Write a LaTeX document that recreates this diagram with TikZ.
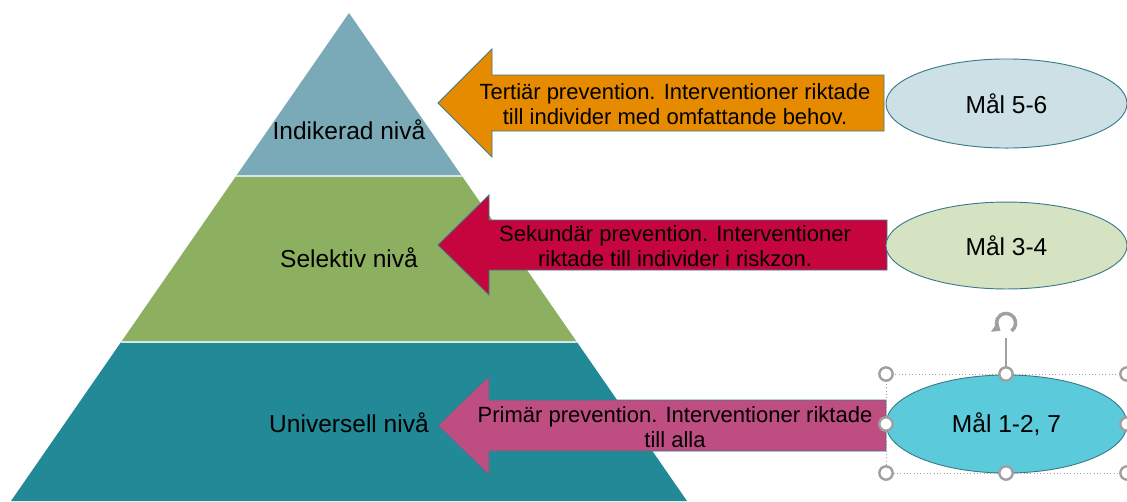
\documentclass[tikz,border=0pt]{standalone}
\usepackage{fontspec}
\setmainfont{Liberation Sans}
\usetikzlibrary{arrows.meta}
\definecolor{topc}{HTML}{7AAAB8}
\definecolor{midc}{HTML}{8DB060}
\definecolor{botc}{HTML}{218A96}
\definecolor{orangec}{HTML}{E68A00}
\definecolor{redc}{HTML}{C5053D}
\definecolor{pinkc}{HTML}{BE4D82}
\definecolor{ell1}{HTML}{CCE0E5}
\definecolor{ell2}{HTML}{D6E3C3}
\definecolor{ell3}{HTML}{5BCBDB}
\definecolor{edgec}{HTML}{3A7C8A}
\definecolor{sepc}{HTML}{D5E6EA}
\definecolor{handc}{HTML}{A0A0A0}
\begin{document}
\begin{tikzpicture}[x=0.75pt,y=-0.75pt,
  lvl/.style={font=\fontsize{18.4}{22}\selectfont, text=black, inner sep=0pt},
  atext/.style={font=\fontsize{16.5}{18.75}\selectfont, text=black, align=center, inner sep=0pt},
  mtext/.style={font=\fontsize{18.4}{22}\selectfont, text=black, inner sep=0pt},
  arrowshape/.style={draw=edgec, line width=0.6pt},
  ellshape/.style={draw=edgec, line width=0.7pt},
  sepline/.style={draw=sepc, line width=1.5pt},
  handle/.style={circle, draw=handc, fill=white, line width=1.8pt, minimum size=10pt, inner sep=0pt},
  selbox/.style={draw=handc, line width=0.5pt, dotted}]
\useasboundingbox (0,0) rectangle (1127,501);
\clip (0,0) rectangle (1127,501);
\fill[white] (0,0) rectangle (1127,501);
% pyramid
\fill[topc] (349,13) -- (461.9,176) -- (236.1,176) -- cycle;
\fill[midc] (236.1,176) -- (461.9,176) -- (576.9,342) -- (121.1,342) -- cycle;
\fill[botc] (121.1,342) -- (576.9,342) -- (687,501) -- (11,501) -- cycle;
\draw[sepline] (236.1,176) -- (461.9,176);
\draw[sepline] (121.1,342) -- (576.9,342);
\node[lvl] (ind) at (349,130) {Indikerad nivå};
\node[lvl] (sel) at (349,258) {Selektiv nivå};
\node[lvl] (uni) at (349,423) {Universell nivå};
% arrows
\filldraw[arrowshape, fill=orangec] (438,103) -- (492,49) -- (492,75) -- (884,75) -- (884,131) -- (492,131) -- (492,157) -- cycle;
\filldraw[arrowshape, fill=redc] (438,245) -- (489,195) -- (489,220) -- (887,220) -- (887,270) -- (489,270) -- (489,295) -- cycle;
\filldraw[arrowshape, fill=pinkc] (438,425.5) -- (489,376) -- (489,400) -- (886,400) -- (886,451) -- (489,451) -- (489,475) -- cycle;
\node[atext] (t3) at (675,104) {Tertiär prevention. Interventioner riktade\\till individer med omfattande behov.};
\node[atext] (t2) at (675,246) {Sekundär prevention. Interventioner\\riktade till individer i riskzon.};
\node[atext] (t1) at (675,427) {Primär prevention. Interventioner riktade\\till alla};
% ellipses
\filldraw[ellshape, fill=ell1] (1006.5,103.5) ellipse [x radius=90.4pt, y radius=33.4pt];
\filldraw[ellshape, fill=ell2] (1006.5,245.5) ellipse [x radius=90.4pt, y radius=32.6pt];
\filldraw[ellshape, fill=ell3] (1006.5,424) ellipse [x radius=90.4pt, y radius=36.75pt];
\node[mtext] (m56) at (1006.5,103.5) {Mål 5-6};
\node[mtext] (m34) at (1006.5,245.5) {Mål 3-4};
\node[mtext] (m127) at (1006.5,424) {Mål 1-2, 7};
% selection frame
\coordinate (s1) at (886,374);
\coordinate (s2) at (1127,473);
\draw[selbox] (s1) rectangle (s2);
\draw[handc, line width=0.8pt] (1006,374) -- (1006,338);
\draw[handc, line width=2.6pt, -{Triangle[width=9pt,length=5.5pt]}] (1006,323) ++(-55:7.2pt) arc[start angle=-55, end angle=235, radius=7.2pt];
\node[handle] (h1) at (886,374) {};
\node[handle] (h2) at (1006,374) {};
\node[handle] (h3) at (1127,374) {};
\node[handle] (h4) at (886,424) {};
\node[handle] (h5) at (1127,424) {};
\node[handle] (h6) at (886,473) {};
\node[handle] (h7) at (1006,473) {};
\node[handle] (h8) at (1127,473) {};
\end{tikzpicture}
\end{document}
